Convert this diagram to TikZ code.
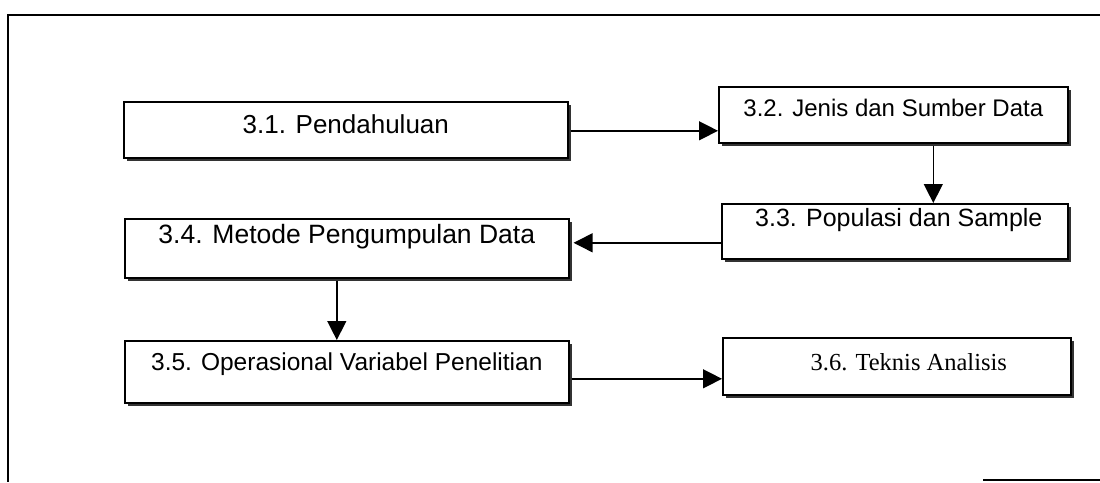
\documentclass[tikz,border=0pt]{standalone}
\usepackage{fontspec}
\setmainfont{Liberation Sans}
\newfontfamily\timesface{Liberation Serif}
\usetikzlibrary{arrows.meta,shadows}

\begin{document}
\begin{tikzpicture}[x=1pt,y=-1pt,
  stepbox/.style={draw=black, line width=1.6pt, fill=white, inner sep=0pt,
    anchor=north west, align=center,
    drop shadow={shadow xshift=3.5pt, shadow yshift=-3.5pt, fill=black!80, opacity=1}},
  flow/.style={line width=1.4pt, -{Triangle[length=19pt,width=19pt]}},
  frame/.style={line width=1.8pt}]

  \useasboundingbox (0,0) rectangle (1100,482);

  % outer frame
  \draw[frame] (1100,15) -- (8,15) -- (8,482);
  \draw[frame] (983,480) -- (1100,480);

  % chapter steps
  \node[stepbox, minimum width=444pt, text height=32pt, text depth=24pt]
    (s1) at (123,101) {\fontsize{26}{30}\selectfont 3.1. Pendahuluan};
  \node[stepbox, minimum width=349pt, text height=30pt, text depth=26pt]
    (s2) at (718,86) {\fontsize{24}{28}\selectfont 3.2. Jenis dan Sumber Data};
  \node[stepbox, minimum width=346pt, text height=23pt, text depth=32pt]
    (s3) at (721,203) {\fontsize{25}{29}\selectfont\hspace*{8pt}3.3. Populasi dan Sample};
  \node[stepbox, minimum width=444pt, text height=25pt, text depth=34pt]
    (s4) at (124,218) {\fontsize{26.5}{30}\selectfont 3.4. Metode Pengumpulan Data};
  \node[stepbox, minimum width=444pt, text height=30pt, text depth=32pt]
    (s5) at (124,340) {\fontsize{24.5}{28}\selectfont 3.5. Operasional Variabel Penelitian};
  \node[stepbox, minimum width=348pt, text height=33pt, text depth=24pt]
    (s6) at (722,337) {\timesface\fontsize{24.5}{28}\selectfont\hspace*{24pt}3.6. Teknis Analisis};

  % connectors
  \draw[flow] ([xshift=2pt,yshift=-1pt]s1.east) -- ([yshift=-1pt]s1.east -| s2.west);
  \draw[flow] ([xshift=40pt,yshift=-2pt]s2.south) -- ([xshift=40pt]s2.south |- s3.north);
  \draw[flow] ([yshift=-11.5pt]s3.west) -- ([yshift=-11.5pt,xshift=4pt]s3.west -| s4.east);
  \draw[flow] ([xshift=-10pt,yshift=-2pt]s4.south) -- ([xshift=-10pt]s4.south |- s5.north);
  \draw[flow] ([xshift=2pt,yshift=-7pt]s5.east) -- ([yshift=-7pt]s5.east -| s6.west);
\end{tikzpicture}
\end{document}
